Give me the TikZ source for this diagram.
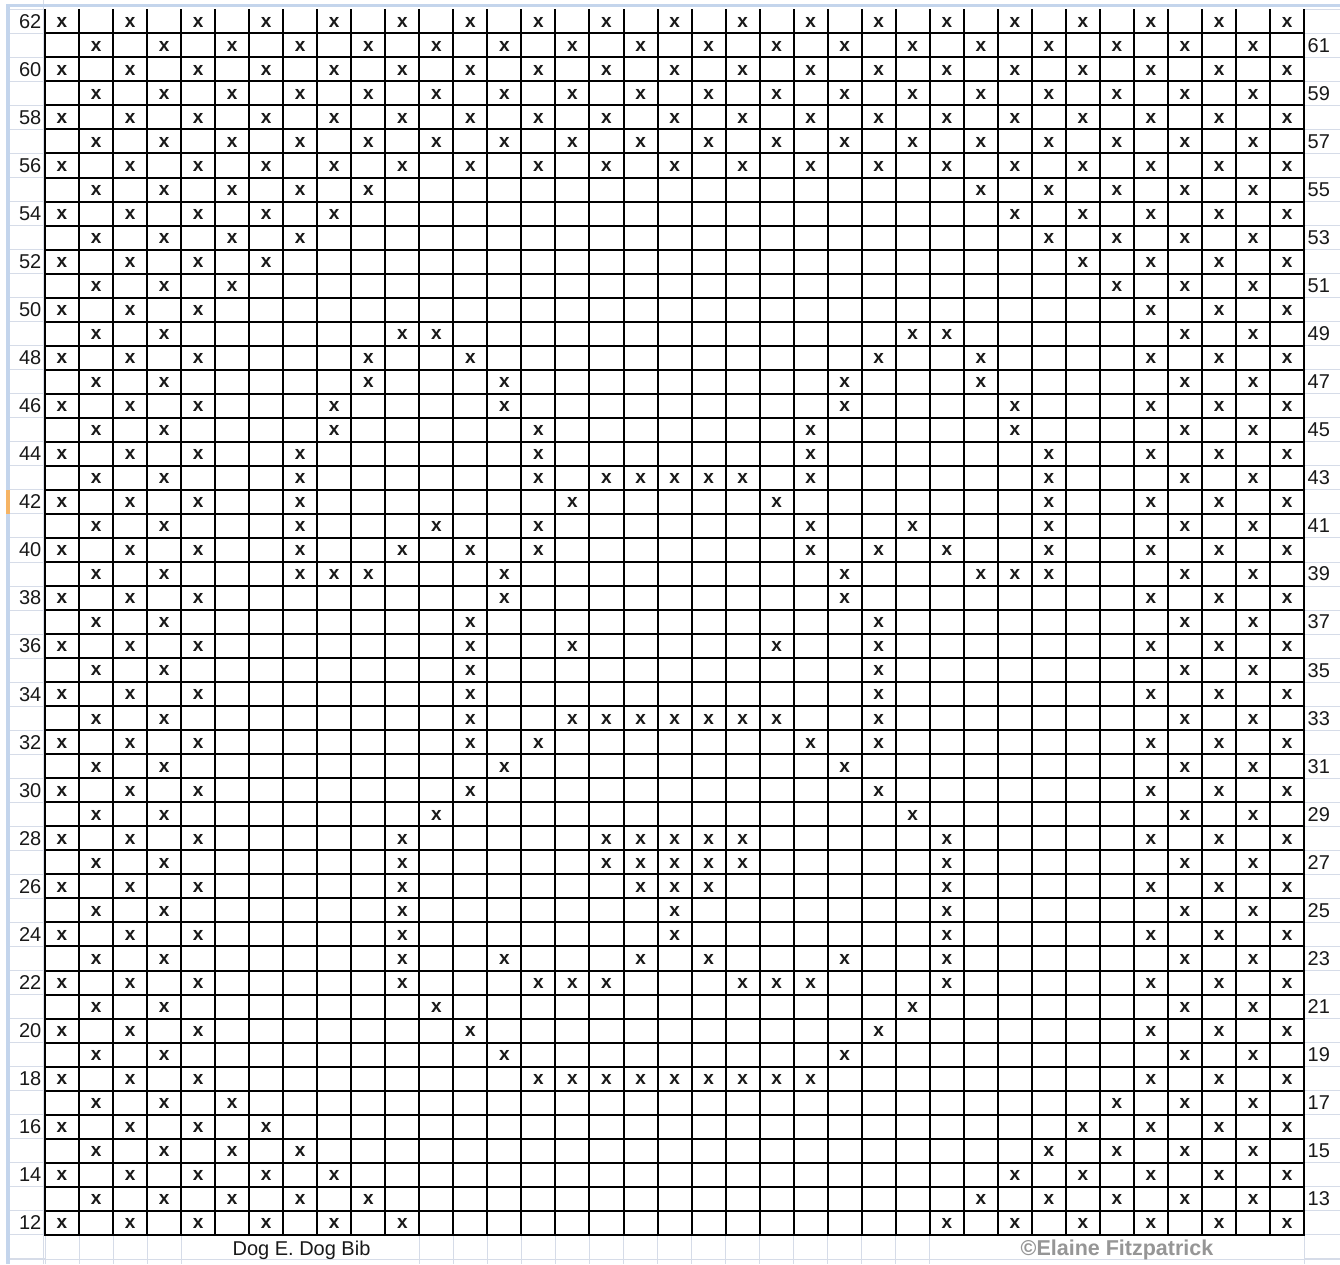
\documentclass[tikz,border=0pt]{standalone}
\usepackage{fontspec}
\setmainfont{Liberation Sans}
\definecolor{xlgrid}{RGB}{214,220,232}
\definecolor{xlhead}{RGB}{196,213,236}
\definecolor{xlsel}{RGB}{246,180,100}
\definecolor{copyg}{RGB}{150,150,150}
\tikzset{
  mk/.style={font=\bfseries\fontsize{19}{19}\selectfont, inner sep=0pt, text=black!90},
  rowlab/.style={font=\fontsize{20}{20}\selectfont, inner sep=0pt, text=black!90},
  gridline/.style={line width=2pt, black, line cap=rect},
  xlline/.style={line width=1pt, xlgrid},
}
\begin{document}
\begin{tikzpicture}[x=1pt,y=-1pt]
\fill[white] (0,0) rectangle (1340,1264);
\useasboundingbox (0,0) rectangle (1340,1264);
% spreadsheet gridlines outside the chart
\foreach \j in {0,...,52}{
  \draw[xlline] (10,{9.3+\j*24.03}) -- (45,{9.3+\j*24.03});
  \draw[xlline] (1304,{9.3+\j*24.03}) -- (1340,{9.3+\j*24.03});
}
\draw[xlline] (10,1259) -- (1340,1259);
\foreach \k in {0,...,4}{\draw[xlline] ({45+\k*34.03},1235) -- ({45+\k*34.03},1264);}
\foreach \k in {11,...,26}{\draw[xlline] ({45+\k*34.03},1235) -- ({45+\k*34.03},1264);}
\draw[xlline] (1304,1235) -- (1304,1264);
\draw[xlline] (43,0) -- (43,1264);
% header bands
\fill[xlhead] (6,3.5) rectangle (1340,7);
\fill[xlhead] (6,3.5) rectangle (10,1264);
\fill[xlsel] (6,{9.3+20*24.03}) rectangle (10,{9.3+21*24.03});
% chart grid
\foreach \k in {0,...,37}{\draw[gridline] ({45+\k*34.03},10) -- ({45+\k*34.03},1235);}
\foreach \j in {1,...,51}{\draw[gridline] (45,{9.3+\j*24.03}) -- (1304.1,{9.3+\j*24.03});}
% stitches
\foreach \r/\L/\ex in {
62/37/0, 61/37/0, 60/37/0, 59/37/0, 58/37/0, 57/37/0, 56/37/0,
55/10/0, 54/9/0, 53/8/0, 52/7/0, 51/6/0, 50/5/0,
49/5/{11,12,26,27},
48/5/{10,13,25,28},
47/5/{10,14,24,28},
46/5/{9,14,24,29},
45/5/{9,15,23,29},
44/5/{8,15,23,30},
43/5/{8,15,17,18,19,20,21,23,30},
42/5/{8,16,22,30},
41/5/{8,12,15,23,26,30},
40/5/{8,11,13,15,23,25,27,30},
39/5/{8,9,10,14,24,28,29,30},
38/5/{14,24},
37/5/{13,25},
36/5/{13,16,22,25},
35/5/{13,25},
34/5/{13,25},
33/5/{13,16,17,18,19,20,21,22,25},
32/5/{13,15,23,25},
31/5/{14,24},
30/5/{13,25},
29/5/{12,26},
28/5/{11,17,18,19,20,21,27},
27/5/{11,17,18,19,20,21,27},
26/5/{11,18,19,20,27},
25/5/{11,19,27},
24/5/{11,19,27},
23/5/{11,14,18,20,24,27},
22/5/{11,15,16,17,21,22,23,27},
21/5/{12,26},
20/5/{13,25},
19/5/{14,24},
18/5/{15,16,17,18,19,20,21,22,23},
17/6/0, 16/7/0, 15/8/0, 14/9/0, 13/10/0, 12/11/0}{
  \pgfmathsetmacro\yy{9.3+(62-\r+0.5)*24.03+0.8}
  \foreach \c in {1,...,37}{
    \pgfmathtruncatemacro\ok{(mod(\r+\c,2)==1) && ((\c<=\L) || (\c>=38-\L))}
    \ifnum\ok=1 \node[mk] (m\r-\c) at ({45+(\c-0.5)*34.03},\yy) {x};\fi
  }
  \foreach \c in \ex {
    \ifnum\c>0 \node[mk] (n\r-\c) at ({45+(\c-0.5)*34.03},\yy) {x};\fi
  }
}
% row numbers
\foreach \r in {62,60,...,12}{
  \node[rowlab, anchor=east] (l\r) at (41.5,{9.3+(62-\r+0.5)*24.03}) {\r};
}
\foreach \r in {61,59,...,13}{
  \node[rowlab, anchor=west] (r\r) at (1307.5,{9.3+(62-\r+0.5)*24.03}) {\r};
}
% captions
\node[font=\fontsize{20}{20}\selectfont, inner sep=0pt, anchor=base, text=black!90] (title) at (301.5,1255) {Dog E. Dog Bib};
\node[font=\bfseries\fontsize{21.5}{21.5}\selectfont, inner sep=0pt, anchor=base, text=copyg] (copy) at (1117,1255.5) {©Elaine Fitzpatrick};
\end{tikzpicture}
\end{document}
